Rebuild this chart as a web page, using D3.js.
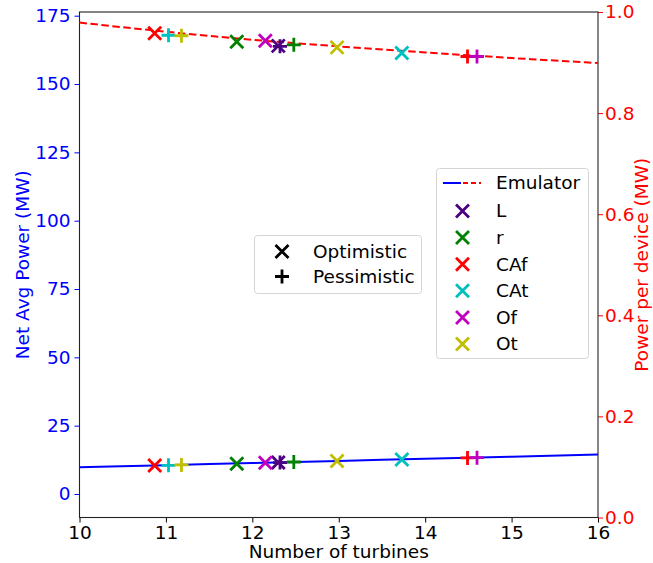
<!DOCTYPE html>
<html>
<head>
<meta charset="utf-8">
<script src="https://cdn.jsdelivr.net/npm/d3@7"></script>
<style>
  body { margin: 0; background: #fff; }
  svg text { font-family: "DejaVu Sans", sans-serif; }
</style>
</head>
<body>
<script>
// series
var series = ["L", "r", "CAf", "CAt", "Of", "Ot"];
var seriesColors = ["#4b0082", "#008000", "#ff0000", "#00bfbf", "#bf00bf", "#bfbf00"];

// optimistic (x markers)
var optTurbines  = [12.30, 11.82, 10.87, 13.73, 12.15, 12.98];
var optPerDevice = [0.933, 0.941, 0.958, 0.919, 0.943, 0.930];
var optNet       = [11.5, 11.1, 10.4, 12.6, 11.45, 12.1];

// pessimistic (+ markers)
var pesTurbines  = [12.32, 12.48, 14.49, 11.03, 14.60, 11.18];
var pesPerDevice = [0.932, 0.935, 0.912, 0.954, 0.912, 0.953];
var pesNet       = [11.5, 11.7, 13.2, 10.5, 13.3, 10.65];

// emulator curve
var emuTurbines  = [10, 11, 12, 13, 14, 15, 16];
var emuPerDevice = [0.979, 0.961, 0.945, 0.932, 0.920, 0.909, 0.899];
var emuNet       = [9.8, 10.55, 11.35, 12.1, 12.9, 13.65, 14.45];

var xTicks = [10, 11, 12, 13, 14, 15, 16];
var leftTicks = [0, 25, 50, 75, 100, 125, 150, 175];
var rightTicks = [0, 0.2, 0.4, 0.6, 0.8, 1.0];

var W = 653, H = 563;
var pL = 79.5, pR = 598, pT = 12, pB = 517.5;

var svg = d3.select("body").append("svg")
  .attr("width", W)
  .attr("height", H);

var x = d3.scaleLinear().domain([10, 16]).range([pL, pR]);
var yL = d3.scaleLinear().domain([-8.6, 176.35]).range([pB, pT]);
var yR = d3.scaleLinear().domain([0, 1]).range([pB, pT]);

// axes
var fs = "18.5px";
var xAxis = svg.append("g")
  .attr("transform", "translate(0," + pB + ")")
  .call(d3.axisBottom(x).tickValues(xTicks).tickFormat(d3.format("d")).tickSizeOuter(0).tickSize(5).tickPadding(3));
xAxis.selectAll("text").attr("font-size", fs).attr("fill", "#000");

var yAxisL = svg.append("g")
  .attr("transform", "translate(" + pL + ",0)")
  .call(d3.axisLeft(yL).tickValues(leftTicks).tickFormat(d3.format("d")).tickSizeOuter(0).tickSize(5).tickPadding(4));
yAxisL.selectAll("text").attr("font-size", fs).attr("fill", "#0000ff");
yAxisL.selectAll(".tick line").attr("stroke", "#0000ff");

var yAxisR = svg.append("g")
  .attr("transform", "translate(" + pR + ",0)")
  .call(d3.axisRight(yR).tickValues(rightTicks).tickFormat(d3.format(".1f")).tickSizeOuter(0).tickSize(5).tickPadding(2));
yAxisR.selectAll("text").attr("font-size", fs).attr("fill", "#ff0000");
yAxisR.selectAll(".tick line").attr("stroke", "#ff0000");

svg.selectAll(".domain").remove();

// frame
svg.append("rect")
  .attr("x", pL).attr("y", pT)
  .attr("width", pR - pL).attr("height", pB - pT)
  .attr("fill", "none").attr("stroke", "#222").attr("stroke-width", 1.1);

// axis titles
svg.append("text")
  .attr("x", (pL + pR) / 2).attr("y", 558)
  .attr("text-anchor", "middle").attr("font-size", fs).attr("fill", "#000")
  .text("Number of turbines");
svg.append("text")
  .attr("transform", "translate(29," + ((pT + pB) / 2) + ") rotate(-90)")
  .attr("text-anchor", "middle").attr("font-size", fs).attr("fill", "#0000ff")
  .text("Net Avg Power (MW)");
svg.append("text")
  .attr("transform", "translate(648," + ((pT + pB) / 2) + ") rotate(-90)")
  .attr("text-anchor", "middle").attr("font-size", fs).attr("fill", "#ff0000")
  .text("Power per device (MW)");

var plot = svg.append("g");

// emulator lines
var netLine = d3.line().curve(d3.curveMonotoneX)
  .x(function(d, i) { return x(emuTurbines[i]); })
  .y(function(d) { return yL(d); });
var devLine = d3.line().curve(d3.curveMonotoneX)
  .x(function(d, i) { return x(emuTurbines[i]); })
  .y(function(d) { return yR(d); });

plot.append("path").datum(emuNet)
  .attr("d", netLine).attr("fill", "none")
  .attr("stroke", "#0000ff").attr("stroke-width", 2);
plot.append("path").datum(emuPerDevice)
  .attr("d", devLine).attr("fill", "none")
  .attr("stroke", "#ff0000").attr("stroke-width", 2).attr("stroke-dasharray", "7.5,3.5");

// marker helpers
var ms = 6.5, mw = 2.8;
function crossPath(s) { return "M" + (-s) + "," + (-s) + "L" + s + "," + s + "M" + (-s) + "," + s + "L" + s + "," + (-s); }
function plusPath(s) { return "M" + (-s) + ",0L" + s + ",0M0," + (-s) + "L0," + s; }

function drawMarkers(xs, ys, scale, path) {
  plot.selectAll(null)
    .data(series)
    .enter()
    .append("path")
    .attr("transform", function(d, i) { return "translate(" + x(xs[i]) + "," + scale(ys[i]) + ")"; })
    .attr("d", path)
    .attr("fill", "none")
    .attr("stroke", function(d, i) { return seriesColors[i]; })
    .attr("stroke-width", mw);
}

drawMarkers(optTurbines, optNet, yL, crossPath(ms));
drawMarkers(pesTurbines, pesNet, yL, plusPath(ms + 0.5));
drawMarkers(optTurbines, optPerDevice, yR, crossPath(ms));
drawMarkers(pesTurbines, pesPerDevice, yR, plusPath(ms + 0.5));

// legend: series
var lg = svg.append("g");
lg.append("rect")
  .attr("x", 436.5).attr("y", 168.5).attr("width", 152).attr("height", 190)
  .attr("rx", 3).attr("fill", "#fff").attr("fill-opacity", 0.85)
  .attr("stroke", "#d5d5d5").attr("stroke-width", 1);
lg.append("line").attr("x1", 443).attr("x2", 461).attr("y1", 183).attr("y2", 183)
  .attr("stroke", "#0000ff").attr("stroke-width", 2);
lg.append("line").attr("x1", 463).attr("x2", 481).attr("y1", 183).attr("y2", 183)
  .attr("stroke", "#ff0000").attr("stroke-width", 2).attr("stroke-dasharray", "5,3");
lg.append("text").attr("x", 496).attr("y", 183).attr("dy", "0.35em")
  .attr("font-size", fs).attr("fill", "#000").text("Emulator");

var rowY = d3.scaleLinear().domain([0, 5]).range([211, 344]);
var rows = lg.selectAll(".row").data(series).enter().append("g")
  .attr("transform", function(d, i) { return "translate(0," + rowY(i) + ")"; });
rows.append("path")
  .attr("transform", "translate(462.5,0)")
  .attr("d", crossPath(ms))
  .attr("fill", "none")
  .attr("stroke", function(d, i) { return seriesColors[i]; })
  .attr("stroke-width", mw);
rows.append("text").attr("x", 496).attr("dy", "0.35em")
  .attr("font-size", fs).attr("fill", "#000")
  .text(function(d) { return d; });

// legend: scenario
var lg2 = svg.append("g");
lg2.append("rect")
  .attr("x", 254.5).attr("y", 235.5).attr("width", 167).attr("height", 58)
  .attr("rx", 3).attr("fill", "#fff").attr("fill-opacity", 0.85)
  .attr("stroke", "#d5d5d5").attr("stroke-width", 1);
var scen = [["Optimistic", crossPath(ms)], ["Pessimistic", plusPath(ms + 0.5)]];
var srow = lg2.selectAll(".s").data(scen).enter().append("g")
  .attr("transform", function(d, i) { return "translate(0," + (251.5 + i * 25) + ")"; });
srow.append("path").attr("transform", "translate(282,0)")
  .attr("d", function(d) { return d[1]; })
  .attr("fill", "none").attr("stroke", "#000").attr("stroke-width", mw);
srow.append("text").attr("x", 313).attr("dy", "0.35em")
  .attr("font-size", fs).attr("fill", "#000")
  .text(function(d) { return d[0]; });
</script>
</body>
</html>
